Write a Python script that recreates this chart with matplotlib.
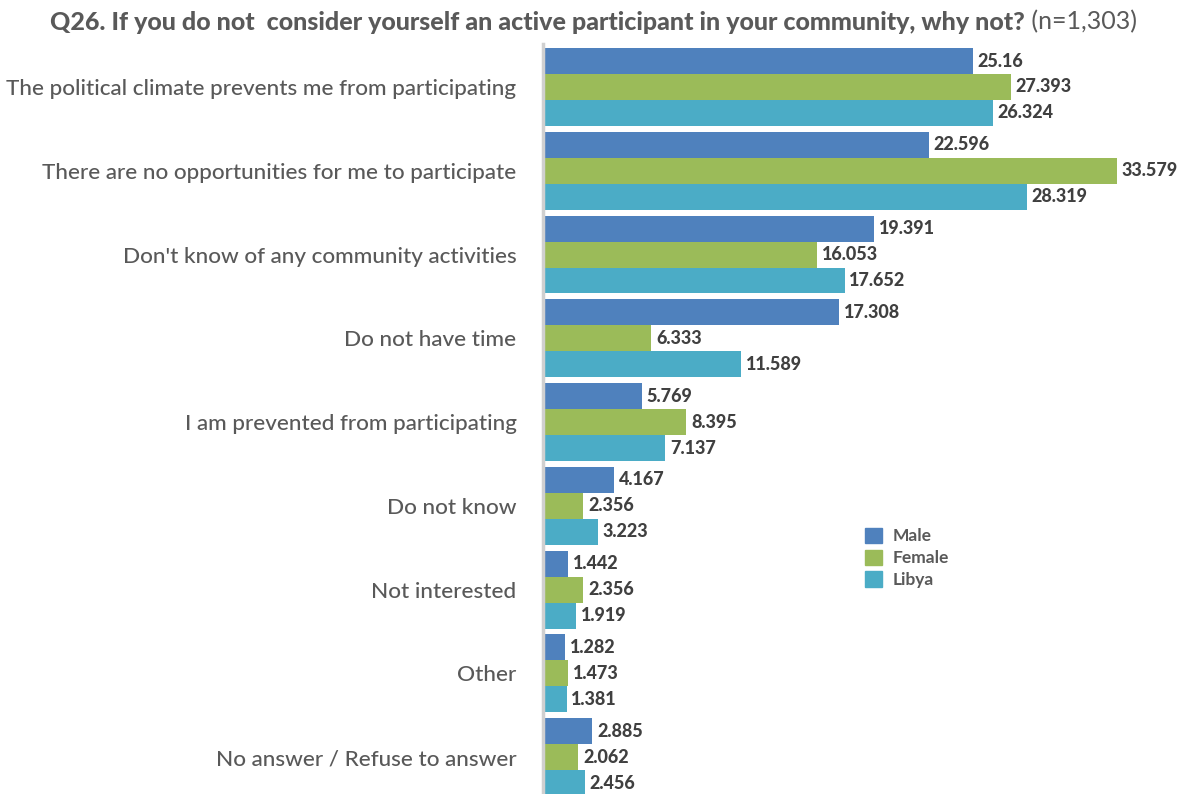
import numpy as np
import matplotlib.pyplot as plt
from matplotlib.patches import Patch

plt.rcParams['font.family'] = ['Lato', 'DejaVu Sans']

reasons = [
    "The political climate prevents me from participating",
    "There are no opportunities for me to participate",
    "Don't know of any community activities",
    "Do not have time",
    "I am prevented from participating",
    "Do not know",
    "Not interested",
    "Other",
    "No answer / Refuse to answer",
]
male = [25.16, 22.596, 19.391, 17.308, 5.769, 4.167, 1.442, 1.282, 2.885]
female = [27.393, 33.579, 16.053, 6.333, 8.395, 2.356, 2.356, 1.473, 2.062]
libya = [26.324, 28.319, 17.652, 11.589, 7.137, 3.223, 1.919, 1.381, 2.456]

series = [("Male", male, "#4F81BD"),
          ("Female", female, "#9BBB59"),
          ("Libya", libya, "#4BACC6")]

W, H = 1187, 794
fig = plt.figure(figsize=(W / 100, H / 100), dpi=100)
ax = fig.add_axes([543 / W, 0, 1 - 543 / W, 1 - 44 / H])

y = np.arange(len(reasons))
h = 0.31
for i, (name, vals, col) in enumerate(series):
    pos = y + (i - 1) * h
    ax.barh(pos, vals, height=h, color=col, label=name)
    for yy, v in zip(pos, vals):
        ax.annotate(f"{v:g}", (v, yy), xytext=(3.5, 0), textcoords="offset points",
                    va="center", ha="left", fontsize=13, fontweight=900,
                    color="#404040")

ax.set_xlim(0, 37.7)
ax.set_ylim(8.44, -0.513)
ax.set_yticks(y)
ax.set_yticklabels(reasons, fontsize=16.2, color="#595959", fontweight="medium")
ax.tick_params(axis="y", length=0, pad=19)
ax.set_xticks([])
for s in ["top", "right", "bottom"]:
    ax.spines[s].set_visible(False)
ax.spines["left"].set_color("#D0D0D0")
ax.spines["left"].set_linewidth(2.5)

handles = [Patch(color=c, label=n) for n, _, c in series]
leg = fig.legend(handles=handles, loc="upper left", bbox_to_anchor=(849 / W, 1 - 512 / H),
                 frameon=False, fontsize=12.5, handlelength=1.0, handleheight=1.0,
                 handletextpad=0.6, labelspacing=0.3)
for t in leg.get_texts():
    t.set_color("#595959")
    t.set_fontweight("bold")

# title: bold question followed by the sample size in regular weight
t1 = fig.text(0, 1 - 22 / H, "Q26. If you do not  consider yourself an active participant in your community, why not?",
              fontsize=18, fontweight=900, color="#595959", va="center", ha="left")
t2 = fig.text(0, 1 - 22 / H, " (n=1,303)", fontsize=18, color="#595959", va="center", ha="left")
fig.canvas.draw()
r = fig.canvas.get_renderer()
w1 = t1.get_window_extent(r).width
w2 = t2.get_window_extent(r).width
x0 = (W - w1 - w2) / 2
t1.set_x(x0 / W)
t2.set_x((x0 + w1) / W)

fig.savefig("out.png", dpi=100)
